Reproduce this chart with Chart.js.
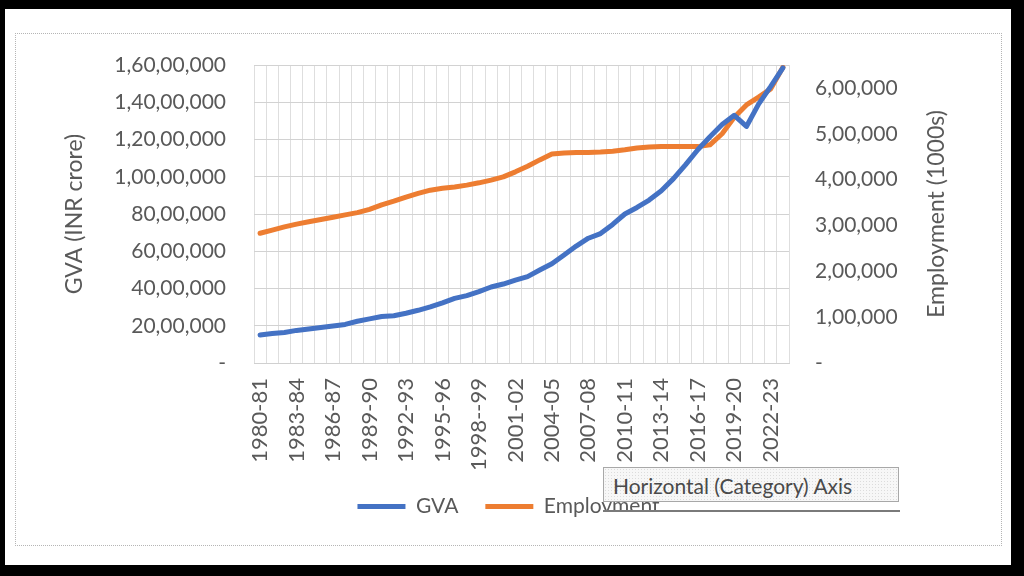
<!DOCTYPE html>
<html>
<head>
<meta charset="utf-8">
<script src="https://cdn.jsdelivr.net/npm/chart.js@4.4.1/dist/chart.umd.min.js"></script>
<style>
  html, body { margin: 0; padding: 0; background: #000; width: 1024px; height: 576px; overflow: hidden; }
  #panel { position: absolute; left: 5px; top: 9px; width: 1006px; height: 556px; background: #fff; }
  #frame { position: absolute; left: 15px; top: 33px; width: 985px; height: 511px; border: 1px dotted #b5b5b5; pointer-events: none; }
  #wrap { position: absolute; left: 15px; top: 33px; width: 987px; height: 532px; }
  #tip { position: absolute; left: 603px; top: 467px; width: 296px; height: 35px; border: 1px solid #a8a8a8;
         background-color: #f7f7f7;
         background-image: radial-gradient(#dcdcdc 0.8px, transparent 0.9px);
         background-size: 3px 3px;
         font-family: Lato, "Open Sans", sans-serif; font-size: 21px; color: #4a4a4a;
         line-height: 35px; padding-left: 9px; box-sizing: border-box; white-space: nowrap; }
  #tipshadow { position: absolute; left: 603px; top: 510px; width: 297px; height: 5px; background: #fff; border-top: 2px solid #7a7a7a; }
</style>
</head>
<body>
<div id="panel"></div>
<div id="wrap"><canvas id="c"></canvas></div>
<div id="frame"></div>
<div id="tipshadow"></div>
<div id="tip">Horizontal (Category) Axis</div>
<script>
const categories = [
  '1980-81','1981-82','1982-83','1983-84','1984-85','1985-86','1986-87','1987-88','1988-89','1989-90',
  '1990-91','1991-92','1992-93','1993-94','1994-95','1995-96','1996-97','1997-98','1998--99','1999-00',
  '2000-01','2001-02','2002-03','2003-04','2004-05','2005-06','2006-07','2007-08','2008-09','2009-10',
  '2010-11','2011-12','2012-13','2013-14','2014-15','2015-16','2016-17','2017-18','2018-19','2019-20',
  '2020-21','2021-22','2022-23','2023-24'
];
// GVA, INR crore (left axis)
const gvaValues = [
  1500000,1580000,1640000,1750000,1830000,1910000,1990000,2070000,2240000,2370000,
  2500000,2540000,2670000,2830000,3010000,3230000,3470000,3620000,3830000,4080000,
  4240000,4450000,4640000,4990000,5330000,5800000,6280000,6700000,6950000,7440000,
  8000000,8350000,8750000,9250000,9900000,10650000,11450000,12150000,12800000,13300000,
  12700000,13900000,14850000,15850000
];
// Employment, thousands (right axis)
const employmentValues = [
  283000,290000,297000,303000,308000,313000,318000,323000,328000,335000,
  345000,353000,362000,370000,377000,381000,384000,388000,393000,399000,
  406000,417000,429000,443000,456000,458000,459000,459000,460000,462000,
  465000,469000,471000,472000,472000,472000,472000,476000,500000,536000,
  563000,580000,598000,645000
];
const leftTickValues = [0, 2000000, 4000000, 6000000, 8000000, 10000000, 12000000, 14000000, 16000000];
const rightTickValues = [0, 100000, 200000, 300000, 400000, 500000, 600000];
const leftMax = 16000000;
const rightMax = 650000;

function inr(n) {
  if (n === 0) return '-';
  const s = String(Math.round(n));
  const last3 = s.slice(-3);
  let rest = s.slice(0, -3);
  if (!rest) return last3;
  rest = rest.replace(/\B(?=(\d{2})+(?!\d))/g, ',');
  return rest + ',' + last3;
}

Chart.defaults.font.family = 'Lato, "Open Sans", sans-serif';
Chart.defaults.color = '#595959';

const rightTitle = {
  id: 'rightTitle',
  afterDraw(chart) {
    const ctx = chart.ctx;
    ctx.save();
    ctx.translate(922, 181);
    ctx.rotate(-Math.PI / 2);
    ctx.font = '23px Lato, "Open Sans", sans-serif';
    ctx.fillStyle = '#595959';
    ctx.textAlign = 'center';
    ctx.textBaseline = 'middle';
    ctx.fillText('Employment (1000s)', 0, 0);
    ctx.restore();
  }
};

new Chart(document.getElementById('c'), {
  type: 'line',
  data: {
    labels: categories,
    datasets: [
      { label: 'GVA', data: gvaValues, yAxisID: 'y', borderColor: '#4472C4', backgroundColor: '#4472C4',
        borderWidth: 5, pointRadius: 0, tension: 0, borderJoinStyle: 'round', borderCapStyle: 'round' },
      { label: 'Employment', data: employmentValues, yAxisID: 'y1', borderColor: '#ED7D31', backgroundColor: '#ED7D31',
        borderWidth: 5, pointRadius: 0, tension: 0, borderJoinStyle: 'round', borderCapStyle: 'round' }
    ]
  },
  options: {
    responsive: true,
    maintainAspectRatio: false,
    animation: false,
    layout: { padding: { top: 32, bottom: 38, left: 0, right: 0 } },
    plugins: {
      tooltip: { enabled: false },
      legend: {
        position: 'bottom',
        labels: {
          boxWidth: 48, boxHeight: 5, padding: 27,
          font: { size: 21 }, color: '#595959',
          generateLabels(chart) {
            return Chart.defaults.plugins.legend.labels.generateLabels(chart).map(l => Object.assign(l, { lineWidth: 0 }));
          }
        }
      }
    },
    scales: {
      x: {
        offset: true,
        grid: { offset: true, color: '#dedede', drawTicks: false },
        border: { color: '#d0d0d0' },
        ticks: {
          autoSkip: false, minRotation: 90, maxRotation: 90, padding: 15,
          font: { size: 22 }, color: '#595959',
          callback(v, i) { return i % 3 === 0 ? this.getLabelForValue(v) : ''; }
        },
        afterFit(s) { s.height = 106; }
      },
      y: {
        position: 'left',
        min: 0, max: leftMax,
        grid: { color: '#d2d2d2', drawTicks: true, tickLength: 26, tickColor: 'rgba(0,0,0,0)' },
        border: { display: false },
        ticks: { padding: 2, font: { size: 21 }, color: '#595959', callback: v => inr(v) },
        afterBuildTicks(s) { s.ticks = leftTickValues.map(v => ({ value: v })); },
        title: { display: true, text: 'GVA (INR crore)', font: { size: 23 }, color: '#595959', padding: { top: 46, bottom: 0 } },
        afterFit(s) { s.width = 239; }
      },
      y1: {
        position: 'right',
        min: 0, max: rightMax,
        grid: { drawOnChartArea: false, drawTicks: true, tickLength: 24, tickColor: 'rgba(0,0,0,0)' },
        border: { display: false },
        ticks: { padding: 2, font: { size: 21 }, color: '#595959', callback: v => inr(v) },
        afterBuildTicks(s) { s.ticks = rightTickValues.map(v => ({ value: v })); },
        afterFit(s) { s.width = 213; }
      }
    }
  },
  plugins: [rightTitle]
});
</script>
</body>
</html>
